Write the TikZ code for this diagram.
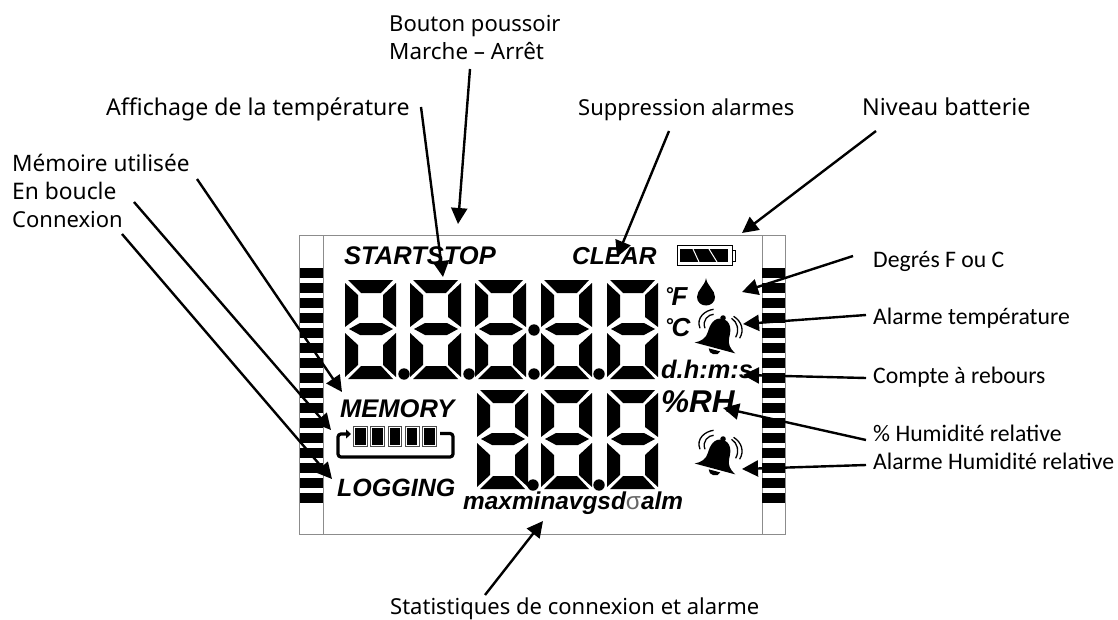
\documentclass[tikz,border=0pt]{standalone}
\usepackage{fontspec}
\usetikzlibrary{arrows.meta,calc}
\newfontfamily\labfont{Noto Sans}
\newfontfamily\calfont{Carlito}
\newfontfamily\lcdfont{Liberation Sans}
\definecolor{framegray}{gray}{0.55}
\definecolor{sigmagray}{gray}{0.4}
\tikzset{
  x=1pt,y=-1pt,
  lab/.style={inner sep=0pt,anchor=base west,text=black,font=\labfont\fontsize{#1}{28}\selectfont},
  lab/.default=22,
  callab/.style={inner sep=0pt,anchor=base west,text=black,font=\calfont\fontsize{23.7}{24}\selectfont},
  lcd/.style={inner sep=0pt,anchor=base west,text=black,font=\lcdfont\bfseries\itshape\fontsize{#1}{#1}\selectfont},
  lcd/.default=25.5,
  pointer/.style={draw=black,line width=2.4pt,-{Triangle[length=16pt,width=16pt]}},
  seg/.style={fill=black,draw=none},
  digit/.pic={
    \fill[seg] (3,0)--(48,0)--(36,13)--(16,13)--cycle;
    \fill[seg] (0,3)--(13,15)--(13,37)--(0,47)--cycle;
    \fill[seg] (51,3)--(38,15)--(38,37)--(51,47)--cycle;
    \fill[seg] (4,49)--(15,43)--(37,43)--(48,49)--(37,55)--(15,55)--cycle;
    \fill[seg] (0,53)--(13,65)--(13,85)--(0,97)--cycle;
    \fill[seg] (51,53)--(38,65)--(38,85)--(51,97)--cycle;
    \fill[seg] (3,99)--(16,86)--(36,86)--(48,99)--cycle;
  },
  bellshape/.pic={
    \begin{scope}[rotate=-15]
      \fill (0,-21) circle[radius=2.8];
      \fill (0,-20) .. controls (-9,-20) and (-11,-11) .. (-11,-4)
        .. controls (-11,3) and (-15,7) .. (-21,10) -- (21,10)
        .. controls (15,7) and (11,3) .. (11,-4)
        .. controls (11,-11) and (9,-20) .. (0,-20) -- cycle;
      \fill (-6,12) .. controls (-5,18) and (5,18) .. (6,12) -- cycle;
    \end{scope}
    \draw[line width=1.3pt] (-4,-29) .. controls (-12,-28) and (-22,-21) .. (-17.6,-10);
    \draw[line width=1.3pt] (-4,-24) .. controls (-9,-24) and (-16,-18) .. (-12.6,-10);
    \draw[line width=1.3pt] (16,-22) .. controls (24,-17) and (27,-8) .. (22,0);
    \draw[line width=1.3pt] (14,-20) .. controls (20,-16) and (22,-8) .. (18,-1);
  },
}
\begin{document}
\begin{tikzpicture}
\useasboundingbox (0,0) rectangle (1118,620);
\fill[white] (0,0) rectangle (1118,620);

% frame
\draw[framegray,line width=1pt] (299.5,235.5) rectangle (785,534);
\draw[framegray,line width=1pt] (323,235.5) -- (323,534);
\draw[framegray,line width=1pt] (762,235.5) -- (762,534);
\foreach \k in {0,...,15}{
  \fill (299.5,268+15*\k) rectangle (323,277.5+15*\k);
  \fill (762,268+15*\k) rectangle (785,277.5+15*\k);
}

% digits
\foreach \x in {345,410,475,541,607}{ \pic at (\x,280) {digit}; }
\foreach \x in {477,541,607}{ \pic at (\x,390) {digit}; }
\foreach \x in {404,469,534,599}{ \fill (\x,374) circle[radius=5.7]; }
\fill (534,330) circle[radius=5.7];
\foreach \x in {533,599}{ \fill (\x,485) circle[radius=5.7]; }

% LCD words
\node[lcd] (startstop) at (344,264) {STARTSTOP};
\node[lcd=24.5] (clear) at (572,264) {CLEAR};
\node[lcd] (memory) at (340,417) {MEMORY};
\node[lcd=25] (logging) at (337,496) {LOGGING};
\node[lcd=24.4] (stats) at (463,509) {maxminavgsd{\lcdfont\mdseries\upshape\color{sigmagray}σ}alm};
\node[lcd=26] (degf) at (665,305) {\raisebox{4pt}{\fontsize{20}{20}\selectfont°}\kern-1.5pt F};
\node[lcd=26] (degc) at (665,336) {\raisebox{4pt}{\fontsize{20}{20}\selectfont°}\kern-1.5pt C};
\node[lcd=25.4] (dhms) at (661,378) {d.h:m:s};
\node[lcd=31.5] (rh) at (661,412) {\%RH};

% battery
\draw[black,line width=1pt] (677,246) rectangle (732,265);
\fill (680,249) rectangle (728,262);
\draw[white,line width=1pt] (693,249) -- (699,262);
\draw[white,line width=1pt] (709,249) -- (717,262);
\draw[black,line width=1pt] (732,251) -- (735.5,251) -- (735.5,261) -- (732,261);

% drop
\fill (706,278) .. controls (705,286) and (697,290) .. (697,297)
  .. controls (697,302) and (701,305.5) .. (706,305.5)
  .. controls (711,305.5) and (715,302) .. (715,297)
  .. controls (715,290) and (707,286) .. (706,278) -- cycle;

% bells
\pic at (717.6,338.3) {bellshape};
\pic at (717.6,459.3) {bellshape};

% memory bar
\foreach \k in {0,...,4}{
  \draw[black!70,line width=0.7pt] (353.5+17.3*\k,426) rectangle (367+17.3*\k,446);
  \fill (355+17.3*\k,427.5) rectangle (365.5+17.3*\k,444.5);
}
\draw[black,line width=3.2pt,rounded corners=3pt,-{Triangle[length=5pt,width=9pt]}]
  (440,433.5) -- (453,433.5) -- (453,457) -- (338,457) -- (338,434) -- (351,434);

% labels
\node[lab] (bouton) at (389,32) {Bouton poussoir};
\node[lab=22.4] (marche) at (389,60) {Marche – Arrêt};
\node[lab=23.1] (affichage) at (106,116) {Affichage de la température};
\node[lab] (suppression) at (578,116) {Suppression alarmes};
\node[lab=23.3] (niveau) at (862,116) {Niveau batterie};
\node[lab=22.6] (memoire) at (12,172) {Mémoire utilisée};
\node[lab=22.8] (boucle) at (12,200) {En boucle};
\node[lab] (connexion) at (12,228) {Connexion};
\node[lab] (statistiques) at (390,614.5) {Statistiques de connexion et alarme};
\node[callab] (degres) at (873,267) {Degrés F ou C};
\node[callab] (alarmet) at (873,324) {Alarme température};
\node[callab] (compte) at (873,383) {Compte à rebours};
\node[callab] (humid) at (873,441) {\% Humidité relative};
\node[callab] (alarmeh) at (873,469) {Alarme Humidité relative};

% free ends
\coordinate (tBouton) at (458,224);
\coordinate (tAffich) at (443,277);
\coordinate (tSuppr) at (617,257);
\coordinate (tNiveau) at (742,233);
\coordinate (tMem) at (342,392);
\coordinate (tBoucle) at (331,430);
\coordinate (tConn) at (332,479);
\coordinate (tDeg) at (742,292);
\coordinate (tAlT) at (743,324);
\coordinate (tCpt) at (743,375);
\coordinate (tHum) at (723,408);
\coordinate (tAlH) at (742,469);
\coordinate (tStat) at (543,521);

% connectors
\draw[pointer] ($(marche.base west)+(81,9)$) -- (tBouton);
\draw[pointer] ($(affichage.base west)+(315,-9)$) -- (tAffich);
\draw[pointer] ($(suppression.base west)+(91,15)$) -- (tSuppr);
\draw[pointer] ($(niveau.base west)+(14,15)$) -- (tNiveau);
\draw[pointer] ($(memoire.base west)+(185,7)$) -- (tMem);
\draw[pointer] ($(boucle.base west)+(122,2)$) -- (tBoucle);
\draw[pointer] ($(connexion.base west)+(110,6)$) -- (tConn);
\draw[pointer] ($(degres.base west)+(-20,-11)$) -- (tDeg);
\draw[pointer] ($(alarmet.base west)+(-7,-9)$) -- (tAlT);
\draw[pointer] ($(compte.base west)+(-7,-5)$) -- (tCpt);
\draw[pointer] ($(humid.base west)+(-7,-1)$) -- (tHum);
\draw[pointer] ($(alarmeh.base west)+(-7,-4)$) -- (tAlH);
\draw[pointer] ($(statistiques.base west)+(95,-19.5)$) -- (tStat);
\end{tikzpicture}
\end{document}
